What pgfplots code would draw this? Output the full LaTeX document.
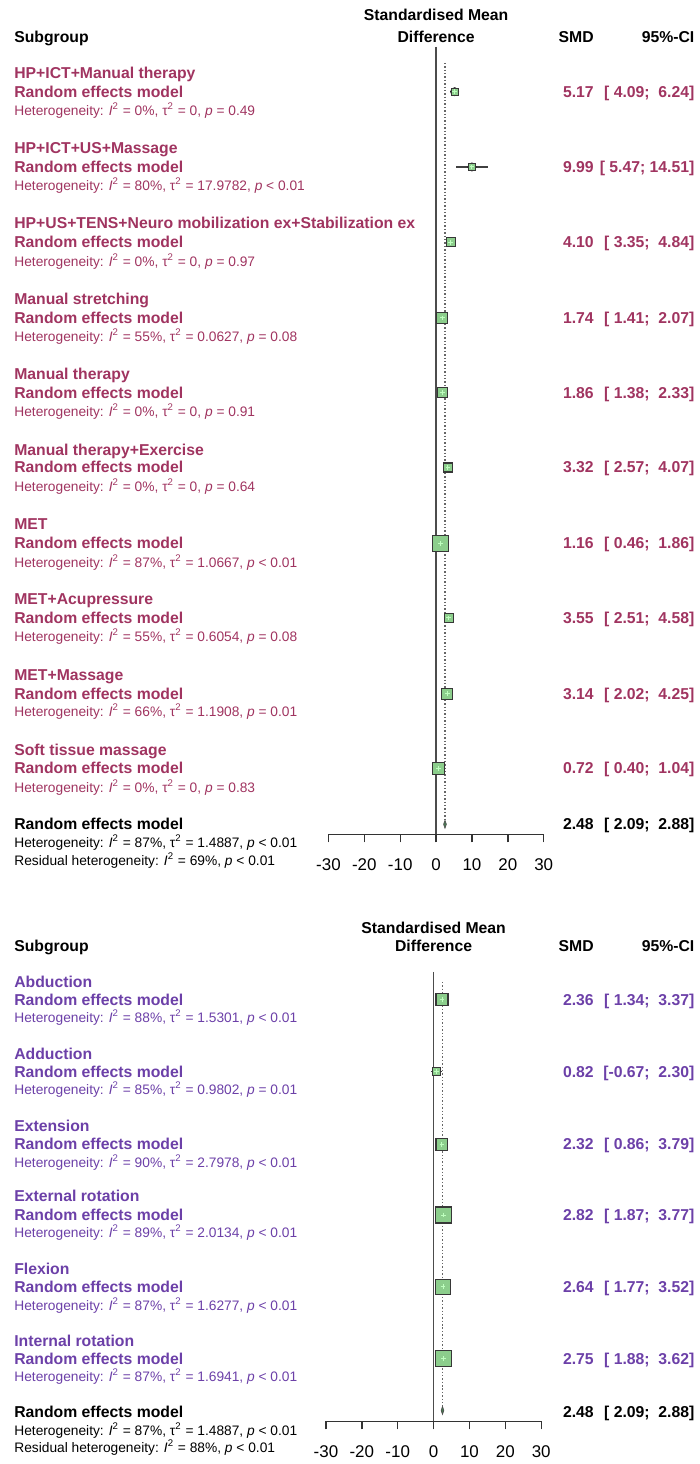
\documentclass[border=0pt]{standalone}
\usepackage{pgfplots}
\pgfplotsset{compat=1.18}
\usepackage{pgfplotstable}
\usepackage{fontspec}
\setmainfont{Liberation Sans}
\definecolor{topc}{RGB}{160,52,96}
\definecolor{botc}{RGB}{108,64,168}
\definecolor{sqfill}{RGB}{140,206,140}
\definecolor{sqdraw}{RGB}{55,55,55}
\definecolor{dmfill}{RGB}{74,120,84}
\newcommand\fmain{\fontsize{7.9pt}{9pt}\selectfont}
\newcommand\fhet{\fontsize{6.9pt}{8pt}\selectfont}
\newcommand\het[3]{Heterogeneity: \textit{I}\textsuperscript{2} = #1, τ\textsuperscript{2} = #2, \textit{p} #3}

\pgfplotstableread{
x y lo hi s
5.17 -92 4.09 6.24 1.75
9.99 -167.5 5.47 14.51 1.75
4.10 -243 3.35 4.84 2.25
1.74 -319 1.41 2.07 2.75
1.86 -394 1.38 2.33 2.5
3.32 -469 2.57 4.07 2.25
1.16 -545 0.46 1.86 4
3.55 -620 2.51 4.58 2.25
3.14 -696 2.02 4.25 2.75
0.72 -771 0.40 1.04 3
}\toptab
\pgfplotstableread{
x y lo hi s
2.36 -1003 1.34 3.37 3
0.82 -1075 -0.67 2.30 2
2.32 -1148 0.86 3.79 3
2.82 -1219 1.87 3.77 4
2.64 -1291 1.77 3.52 3.75
2.75 -1363 1.88 3.62 4
}\bottab

\pgfplotsset{forest/.style={
  x=1.8pt, y=0.5pt, xmin=-30, xmax=30, clip=false,
  axis x line*=bottom, axis y line=none,
  xtick={-30,-20,...,30}, xtick align=outside, major tick length=4pt,
  axis line style={line width=0.7pt, black!80},
  every tick/.style={line width=0.7pt, black!80},
  tick label style={font=\fontsize{8.5pt}{10pt}\selectfont, /pgf/number format/assume math mode=true},
  xticklabel style={yshift=-4.5pt},
}}

\newcommand\grp[8]{%
  \node[anchor=base west, font=\fmain\bfseries, text=#1, inner sep=0] at (14,#3+5.5) {#2};
  \node[anchor=base west, font=\fmain\bfseries, text=#1, inner sep=0] at (14,#4+5.5) {Random effects model};
  \node[anchor=base west, font=\fhet, text=#1, inner sep=0] at (14,#5+5) {#6};
  \node[anchor=base east, font=\fmain\bfseries, text=#1, inner sep=0] at (596,#4+5.5) {#7};
  \node[anchor=base east, font=\fmain\bfseries, text=#1, inner sep=0] at (697,#4+5.5) {#8};
}

\begin{document}
\begin{tikzpicture}
% ---------------- top panel ----------------
\begin{axis}[forest, at={(164.75pt,-418.5pt)}, anchor=south west, ymin=-837, ymax=-47]
\addplot[line width=0.8pt, black!70] coordinates {(0,-47) (0,-837)};
\addplot[densely dotted, line width=0.7pt, black!60] coordinates {(2.48,-63) (2.48,-823)};
\addplot[only marks, mark=none, error bars/.cd, x dir=both, x explicit, error mark=none,
  error bar style={line width=0.9pt, black!75}]
  table[x=x, y=y, x error plus expr=\thisrow{hi}-\thisrow{x}, x error minus expr=\thisrow{x}-\thisrow{lo}] \toptab;
\addplot[scatter, only marks, mark=square*, line width=0.6pt,
  scatter/use mapped color={draw=sqdraw, fill=sqfill},
  visualization depends on={\thisrow{s} \as \ms},
  scatter/@pre marker code/.append style={/tikz/mark size=\ms}]
  table[x=x, y=y] \toptab;
\addplot[only marks, mark=+, mark size=1.2pt, line width=0.5pt, white!75!green] table[x=x, y=y] \toptab;
\addplot[fill=dmfill, draw=black!70, line width=0.3pt] coordinates {(2.09,-827) (2.48,-823) (2.88,-827) (2.48,-831) (2.09,-827)};
\end{axis}
% ---------------- bottom panel ----------------
\begin{axis}[forest, at={(163.5pt,-713pt)}, anchor=south west, ymin=-1426, ymax=-975]
\addplot[line width=0.8pt, black!70] coordinates {(0,-975) (0,-1426)};
\addplot[densely dotted, line width=0.7pt, black!60] coordinates {(2.48,-985) (2.48,-1411)};
\addplot[only marks, mark=none, error bars/.cd, x dir=both, x explicit, error mark=none,
  error bar style={line width=0.9pt, black!75}]
  table[x=x, y=y, x error plus expr=\thisrow{hi}-\thisrow{x}, x error minus expr=\thisrow{x}-\thisrow{lo}] \bottab;
\addplot[scatter, only marks, mark=square*, line width=0.6pt,
  scatter/use mapped color={draw=sqdraw, fill=sqfill},
  visualization depends on={\thisrow{s} \as \ms},
  scatter/@pre marker code/.append style={/tikz/mark size=\ms}]
  table[x=x, y=y] \bottab;
\addplot[only marks, mark=+, mark size=1.2pt, line width=0.5pt, white!75!green] table[x=x, y=y] \bottab;
\addplot[fill=dmfill, draw=black!70, line width=0.3pt] coordinates {(2.09,-1415) (2.48,-1411) (2.88,-1415) (2.48,-1419) (2.09,-1415)};
\end{axis}

\begin{scope}[x=0.5pt, y=-0.5pt]
\path (0,0) rectangle (702,1464);
% headers
\node[anchor=base, font=\fmain\bfseries, inner sep=0] at (437.5,20.5) {Standardised Mean};
\node[anchor=base, font=\fmain\bfseries, inner sep=0] at (437.5,42.5) {Difference};
\node[anchor=base west, font=\fmain\bfseries, inner sep=0] at (14,42.5) {Subgroup};
\node[anchor=base east, font=\fmain\bfseries, inner sep=0] at (596,42.5) {SMD};
\node[anchor=base east, font=\fmain\bfseries, inner sep=0] at (697,42.5) {95\%-CI};
\node[anchor=base, font=\fmain\bfseries, inner sep=0] at (435,936.5) {Standardised Mean};
\node[anchor=base, font=\fmain\bfseries, inner sep=0] at (435,954.5) {Difference};
\node[anchor=base west, font=\fmain\bfseries, inner sep=0] at (14,954.5) {Subgroup};
\node[anchor=base east, font=\fmain\bfseries, inner sep=0] at (596,954.5) {SMD};
\node[anchor=base east, font=\fmain\bfseries, inner sep=0] at (697,954.5) {95\%-CI};
% top groups
\grp{topc}{HP+ICT+Manual therapy}{73}{92}{111}{\het{0\%}{0}{= 0.49}}{5.17}{[ 4.09;\ \ 6.24]}
\grp{topc}{HP+ICT+US+Massage}{149}{167.5}{186}{\het{80\%}{17.9782}{< 0.01}}{9.99}{[ 5.47; 14.51]}
\grp{topc}{HP+US+TENS+Neuro mobilization ex+Stabilization ex}{224}{243}{262}{\het{0\%}{0}{= 0.97}}{4.10}{[ 3.35;\ \ 4.84]}
\grp{topc}{Manual stretching}{300}{319}{338}{\het{55\%}{0.0627}{= 0.08}}{1.74}{[ 1.41;\ \ 2.07]}
\grp{topc}{Manual therapy}{375}{394}{413}{\het{0\%}{0}{= 0.91}}{1.86}{[ 1.38;\ \ 2.33]}
\grp{topc}{Manual therapy+Exercise}{451}{469}{488}{\het{0\%}{0}{= 0.64}}{3.32}{[ 2.57;\ \ 4.07]}
\grp{topc}{MET}{526}{545}{564}{\het{87\%}{1.0667}{< 0.01}}{1.16}{[ 0.46;\ \ 1.86]}
\grp{topc}{MET+Acupressure}{601}{620}{639}{\het{55\%}{0.6054}{= 0.08}}{3.55}{[ 2.51;\ \ 4.58]}
\grp{topc}{MET+Massage}{677}{696}{714}{\het{66\%}{1.1908}{= 0.01}}{3.14}{[ 2.02;\ \ 4.25]}
\grp{topc}{Soft tissue massage}{752}{771}{790}{\het{0\%}{0}{= 0.83}}{0.72}{[ 0.40;\ \ 1.04]}
% top overall
\node[anchor=base west, font=\fmain\bfseries, inner sep=0] at (14,832.5) {Random effects model};
\node[anchor=base west, font=\fhet, inner sep=0] at (14,850) {\het{87\%}{1.4887}{< 0.01}};
\node[anchor=base west, font=\fhet, inner sep=0] at (14,868) {Residual heterogeneity: \textit{I}\textsuperscript{2} = 69\%, \textit{p} < 0.01};
\node[anchor=base east, font=\fmain\bfseries, inner sep=0] at (596,832.5) {2.48};
\node[anchor=base east, font=\fmain\bfseries, inner sep=0] at (697,832.5) {[ 2.09;\ \ 2.88]};
% bottom groups
\grp{botc}{Abduction}{985}{1003}{1021}{\het{88\%}{1.5301}{< 0.01}}{2.36}{[ 1.34;\ \ 3.37]}
\grp{botc}{Adduction}{1057}{1075}{1093}{\het{85\%}{0.9802}{= 0.01}}{0.82}{[-0.67;\ \ 2.30]}
\grp{botc}{Extension}{1130}{1148}{1166}{\het{90\%}{2.7978}{< 0.01}}{2.32}{[ 0.86;\ \ 3.79]}
\grp{botc}{External rotation}{1200}{1219}{1237}{\het{89\%}{2.0134}{< 0.01}}{2.82}{[ 1.87;\ \ 3.77]}
\grp{botc}{Flexion}{1273}{1291}{1310}{\het{87\%}{1.6277}{< 0.01}}{2.64}{[ 1.77;\ \ 3.52]}
\grp{botc}{Internal rotation}{1345}{1363}{1381}{\het{87\%}{1.6941}{< 0.01}}{2.75}{[ 1.88;\ \ 3.62]}
% bottom overall
\node[anchor=base west, font=\fmain\bfseries, inner sep=0] at (14,1422.5) {Random effects model};
\node[anchor=base west, font=\fhet, inner sep=0] at (14,1440) {\het{87\%}{1.4887}{< 0.01}};
\node[anchor=base west, font=\fhet, inner sep=0] at (14,1457) {Residual heterogeneity: \textit{I}\textsuperscript{2} = 88\%, \textit{p} < 0.01};
\node[anchor=base east, font=\fmain\bfseries, inner sep=0] at (596,1422.5) {2.48};
\node[anchor=base east, font=\fmain\bfseries, inner sep=0] at (697,1422.5) {[ 2.09;\ \ 2.88]};
\end{scope}
\end{tikzpicture}
\end{document}
